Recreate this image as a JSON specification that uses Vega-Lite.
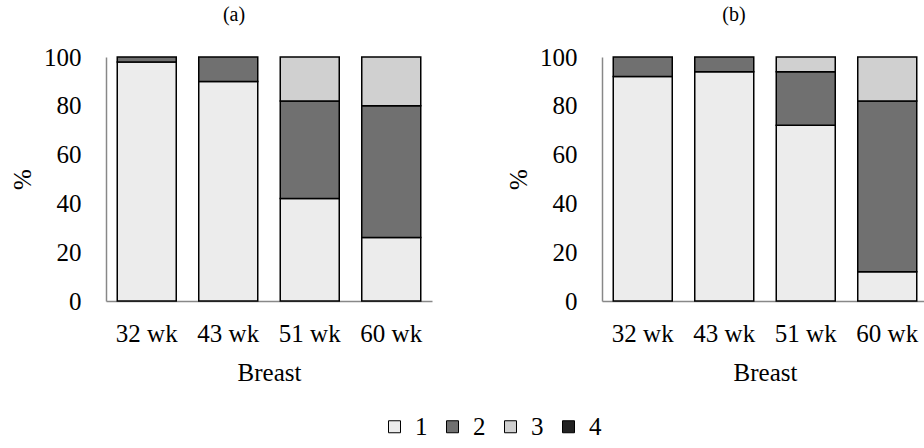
{
  "$schema": "https://vega.github.io/schema/vega-lite/v6.json",
  "background": "white",
  "padding": {"left": 10, "top": 5, "right": 0, "bottom": 0},
  "bounds": "flush",
  "spacing": 170,
  "config": {
    "font": "Liberation Serif",
    "view": {"stroke": null},
    "axis": {
      "labelFont": "Liberation Serif",
      "titleFont": "Liberation Serif",
      "labelFontSize": 25,
      "titleFontSize": 25,
      "labelColor": "#000",
      "titleColor": "#000",
      "titleFontWeight": "normal",
      "ticks": false,
      "tickSize": 0,
      "grid": false,
      "domainColor": "#888888",
      "domainWidth": 1.5
    },
    "title": {"font": "Liberation Serif", "fontSize": 20, "fontWeight": "normal", "color": "#000"},
    "legend": {"labelFont": "Liberation Serif", "labelFontSize": 25, "labelColor": "#000"}
  },
  "datasets": {
    "breast": [
      {"panel": "a", "week": "32 wk", "cat": "1", "pct": 98},
      {"panel": "a", "week": "32 wk", "cat": "2", "pct": 2},
      {"panel": "a", "week": "43 wk", "cat": "1", "pct": 90},
      {"panel": "a", "week": "43 wk", "cat": "2", "pct": 10},
      {"panel": "a", "week": "51 wk", "cat": "1", "pct": 42},
      {"panel": "a", "week": "51 wk", "cat": "2", "pct": 40},
      {"panel": "a", "week": "51 wk", "cat": "3", "pct": 18},
      {"panel": "a", "week": "60 wk", "cat": "1", "pct": 26},
      {"panel": "a", "week": "60 wk", "cat": "2", "pct": 54},
      {"panel": "a", "week": "60 wk", "cat": "3", "pct": 20},
      {"panel": "b", "week": "32 wk", "cat": "1", "pct": 92},
      {"panel": "b", "week": "32 wk", "cat": "2", "pct": 8},
      {"panel": "b", "week": "43 wk", "cat": "1", "pct": 94},
      {"panel": "b", "week": "43 wk", "cat": "2", "pct": 6},
      {"panel": "b", "week": "51 wk", "cat": "1", "pct": 72},
      {"panel": "b", "week": "51 wk", "cat": "2", "pct": 22},
      {"panel": "b", "week": "51 wk", "cat": "3", "pct": 6},
      {"panel": "b", "week": "60 wk", "cat": "1", "pct": 12},
      {"panel": "b", "week": "60 wk", "cat": "2", "pct": 70},
      {"panel": "b", "week": "60 wk", "cat": "3", "pct": 18}
    ]
  },
  "data": {"name": "breast"},
  "hconcat": [
    {
      "title": {"text": "(a)", "dx": -35, "offset": 20},
      "width": 326,
      "height": 244,
      "transform": [{"filter": "datum.panel === 'a'"}],
      "mark": {"type": "bar", "stroke": "#000", "strokeWidth": 1.5},
      "encoding": {
        "x": {
          "field": "week", "type": "ordinal",
          "sort": ["32 wk", "43 wk", "51 wk", "60 wk"],
          "title": "Breast",
          "scale": {"paddingInner": 0.276, "paddingOuter": 0.138},
          "axis": {"labelAngle": 0, "labelPadding": 20, "titlePadding": 14}
        },
        "y": {
          "field": "pct", "type": "quantitative", "stack": "zero",
          "title": "%",
          "scale": {"domain": [0, 100]},
          "axis": {"values": [0, 20, 40, 60, 80, 100], "labelPadding": 25, "titlePadding": 8}
        },
        "color": {
          "field": "cat", "type": "nominal",
          "scale": {"domain": ["1", "2", "3", "4"], "range": ["#ececec", "#707070", "#d0d0d0", "#222222"]},
          "legend": {
            "title": null, "orient": "none", "direction": "horizontal",
            "legendX": 276, "legendY": 357,
            "symbolType": "square", "symbolSize": 144,
            "symbolStrokeColor": "#000", "symbolStrokeWidth": 1,
            "labelOffset": 8, "columnPadding": 12
          }
        },
        "order": {"field": "cat", "type": "nominal"}
      }
    },
    {
      "title": {"text": "(b)", "dx": -31, "offset": 20},
      "width": 326,
      "height": 244,
      "transform": [{"filter": "datum.panel === 'b'"}],
      "mark": {"type": "bar", "stroke": "#000", "strokeWidth": 1.5},
      "encoding": {
        "x": {
          "field": "week", "type": "ordinal",
          "sort": ["32 wk", "43 wk", "51 wk", "60 wk"],
          "title": "Breast",
          "scale": {"paddingInner": 0.276, "paddingOuter": 0.138},
          "axis": {"labelAngle": 0, "labelPadding": 20, "titlePadding": 14}
        },
        "y": {
          "field": "pct", "type": "quantitative", "stack": "zero",
          "title": "%",
          "scale": {"domain": [0, 100]},
          "axis": {"values": [0, 20, 40, 60, 80, 100], "labelPadding": 25, "titlePadding": 8}
        },
        "color": {
          "field": "cat", "type": "nominal",
          "scale": {"domain": ["1", "2", "3", "4"], "range": ["#ececec", "#707070", "#d0d0d0", "#222222"]}
        },
        "order": {"field": "cat", "type": "nominal"}
      }
    }
  ]
}
